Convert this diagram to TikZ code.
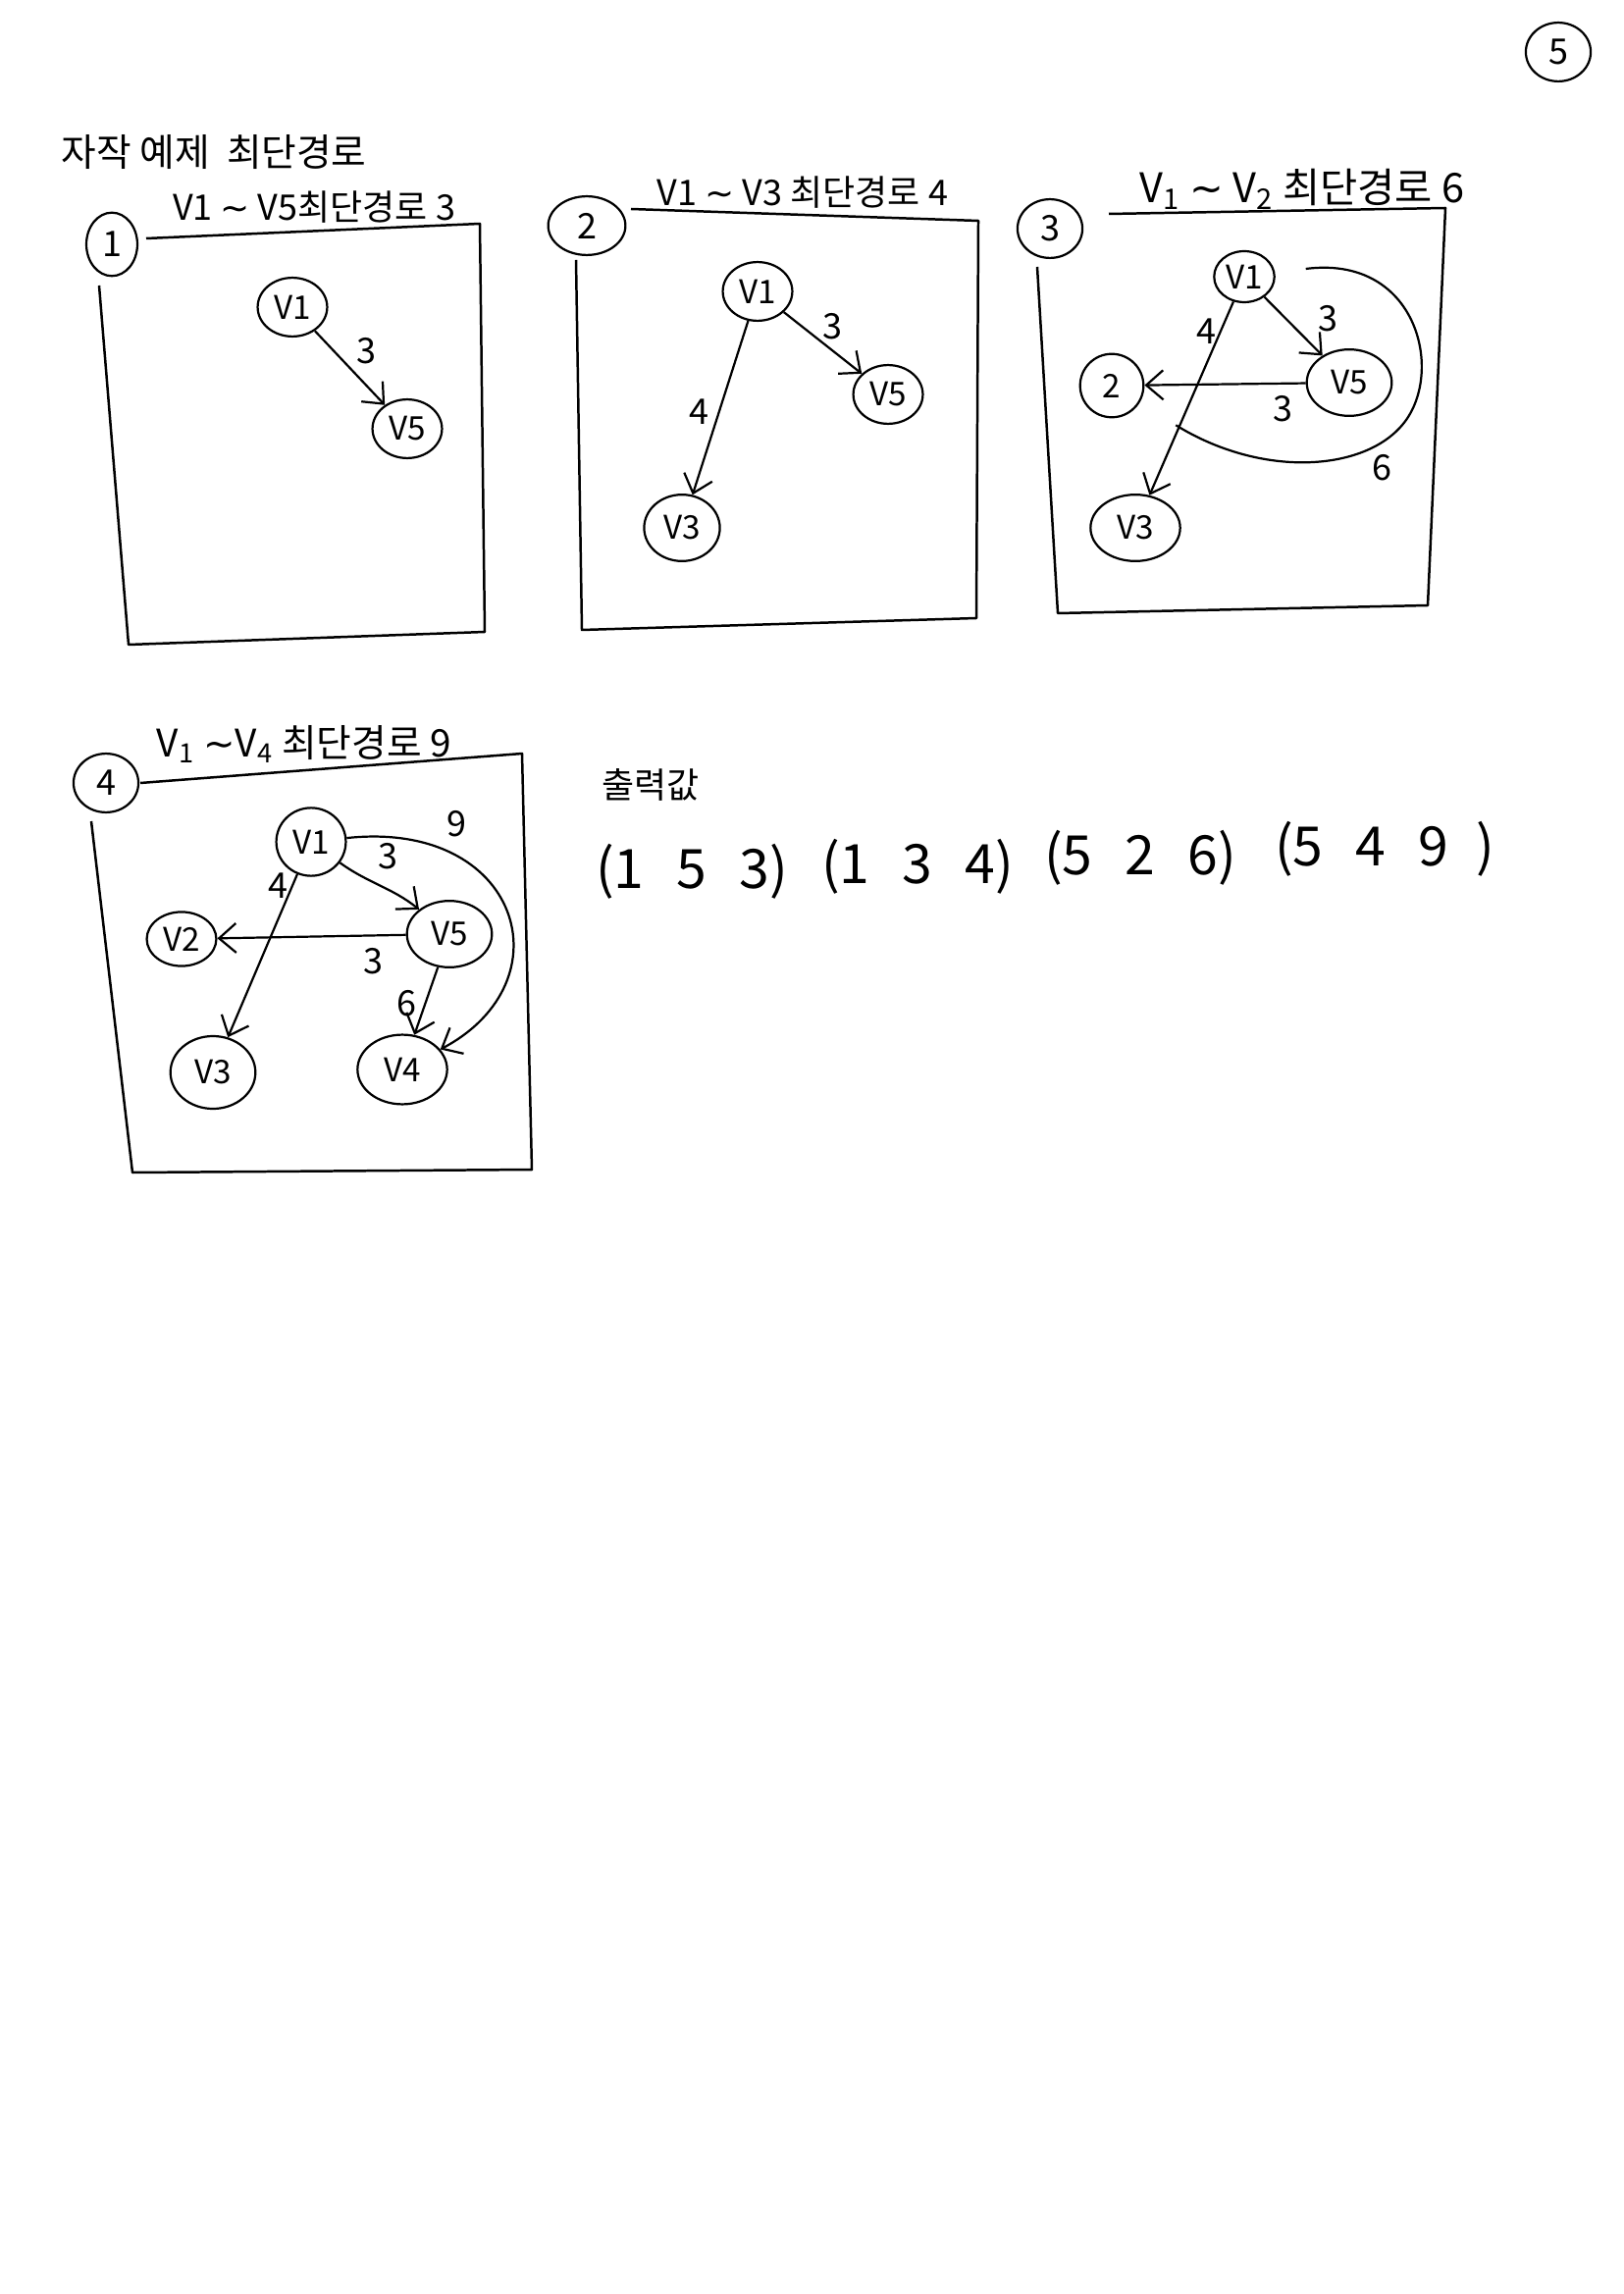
\documentclass[tikz,border=0pt]{standalone}
\usepackage{fontspec}
\setmainfont{Noto Sans CJK KR}
\newfontfamily\symfont{DejaVu Sans}
\newcommand{\wavesym}{{\symfont ∼}}
\usetikzlibrary{shapes.geometric, arrows.meta}

\begin{document}
\begin{tikzpicture}[
    x=0.127mm, y=-0.127mm,
    vertex/.style={ellipse, draw, line width=0.8pt, minimum width=9mm, minimum height=7.6mm, inner sep=0pt, font=\fontsize{12}{14}\selectfont},
    bigvertex/.style={vertex, minimum width=11mm, minimum height=8.6mm},
    numcircle/.style={ellipse, draw, line width=0.8pt, minimum width=8.4mm, minimum height=7.6mm, inner sep=0pt, font=\fontsize{13}{15}\selectfont},
    heading/.style={inner sep=0pt, font=\fontsize{13}{15}\selectfont},
    weight/.style={inner sep=0pt, font=\fontsize{13}{15}\selectfont},
    result/.style={inner sep=0pt, font=\fontsize{20}{22}\selectfont},
    frame/.style={line width=0.9pt, line join=round},
    arrow/.style={-{Straight Barb[length=2.2mm, width=3.8mm]}, line width=0.8pt},
    curve/.style={line width=0.8pt}
]
\useasboundingbox (0,0) rectangle (1654,2338);

\node[numcircle] (page) at (1588,53) {5};
\node[heading, font=\fontsize{14}{16}\selectfont] (title) at (218,155) {자작 예제\ \ 최단경로};

% 1
\node[numcircle, minimum width=6.6mm, minimum height=8.2mm] (p1num) at (114,249) {1};
\node[heading] (p1title) at (320,211) {V1 \wavesym{} V5최단경로 3};
\draw[frame] (101,291) -- (131,657) -- (494,644) -- (489,228) -- (149,243);
\node[vertex] (p1v1) at (298,313) {V1};
\node[vertex] (p1v5) at (415,437) {V5};
\draw[arrow] (p1v1) -- (p1v5);
\node[weight] (p1w15) at (373,358) {3};

% 2
\node[numcircle, minimum width=10mm] (p2num) at (598,230) {2};
\node[heading] (p2title) at (818,196) {V1 \wavesym{} V3 최단경로 4};
\draw[frame] (587,265) -- (593,642) -- (995,630) -- (997,225) -- (643,213);
\node[vertex] (p2v1) at (772,297) {V1};
\node[vertex] (p2v5) at (905,402) {V5};
\node[bigvertex, minimum width=9.8mm] (p2v3) at (695,538) {V3};
\draw[arrow] (p2v1) -- (p2v5);
\draw[arrow] (p2v1) -- (p2v3);
\node[weight] (p2w15) at (848,333) {3};
\node[weight] (p2w13) at (712,420) {4};

% 3
\node[numcircle] (p3num) at (1070,233) {3};
\node[heading, font=\fontsize{15}{17}\selectfont] (p3title) at (1327,193) {V\textsubscript{1} \wavesym{} V\textsubscript{2} 최단경로 6};
\draw[frame] (1057,272) -- (1078,625) -- (1455,617) -- (1473,212) -- (1130,218);
\node[vertex, minimum width=7.8mm, minimum height=6.6mm] (p3v1) at (1268,282) {V1};
\node[bigvertex] (p3v5) at (1375,390) {V5};
\node[vertex, minimum width=8.2mm, minimum height=8.2mm] (p3n2) at (1133,393) {2};
\node[bigvertex, minimum width=11.6mm] (p3v3) at (1157,538) {V3};
\draw[arrow] (p3v1) -- (p3v5);
\draw[arrow] (p3v5) -- (p3n2);
\draw[arrow] (p3v1) -- (p3v3);
\draw[curve, shorten <=4mm, shorten >=5.5mm] (p3v1) .. controls (1440,260) and (1470,370) .. (1435,425)
    .. controls (1400,480) and (1290,490) .. (p3n2);
\node[weight] (p3w15) at (1353,325) {3};
\node[weight] (p3w52) at (1307,417) {3};
\node[weight] (p3w13) at (1229,338) {4};
\node[weight] (p3w12) at (1408,477) {6};

% 4
\node[numcircle] (p4num) at (108,798) {4};
\node[heading, font=\fontsize{14}{16}\selectfont] (p4title) at (310,758) {V\textsubscript{1} \wavesym V\textsubscript{4} 최단경로 9};
\draw[frame] (93,837) -- (135,1195) -- (542,1192) -- (532,768) -- (143,798);
\node[vertex, minimum height=8.8mm] (p4v1) at (317,858) {V1};
\node[bigvertex] (p4v5) at (458,952) {V5};
\node[vertex, minimum height=7mm] (p4v2) at (185,957) {V2};
\node[bigvertex, minimum height=9.4mm] (p4v3) at (217,1093) {V3};
\node[bigvertex, minimum width=11.6mm, minimum height=9mm] (p4v4) at (410,1090) {V4};
\draw[arrow] (p4v1) .. controls (375,900) and (400,905) .. (p4v5);
\draw[arrow] (p4v5) -- (p4v2);
\draw[arrow] (p4v1) -- (p4v3);
\draw[arrow] (p4v5) -- (p4v4);
\draw[arrow] (p4v1) .. controls (530,835) and (580,1000) .. (p4v4);
\node[weight] (p4w15) at (395,873) {3};
\node[weight] (p4w52) at (380,980) {3};
\node[weight] (p4w13) at (283,903) {4};
\node[weight] (p4w54) at (414,1023) {6};
\node[weight] (p4w14) at (465,840) {9};

% output
\node[heading] (outlabel) at (663,800) {출력값};
\node[result] (res1) at (705,888) {(1\hspace{0.6em}5\hspace{0.6em}3)};
\node[result] (res2) at (935,883) {(1\hspace{0.6em}3\hspace{0.6em}4)};
\node[result] (res3) at (1162,874) {(5\hspace{0.6em}2\hspace{0.6em}6)};
\node[result] (res4) at (1411,865) {(5\hspace{0.6em}4\hspace{0.6em}9\hspace{0.5em})};

\end{tikzpicture}
\end{document}
